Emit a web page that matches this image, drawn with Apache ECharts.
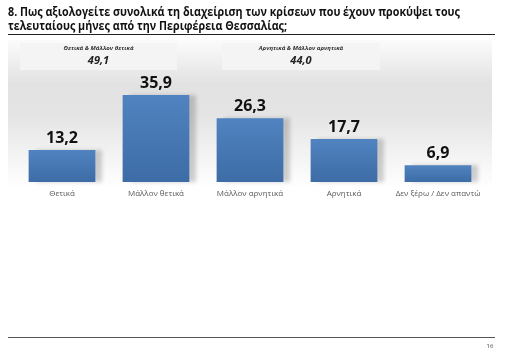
<!DOCTYPE html>
<html><head><meta charset="utf-8">
<script src="https://cdn.jsdelivr.net/npm/echarts@6/dist/echarts.min.js"></script>
<style>html,body{margin:0;padding:0;background:#fff}#c{width:516px;height:355px}</style>
</head><body><div id="c"></div>
<script>
const categories = ['Θετικά', 'Μάλλον θετικά', 'Μάλλον αρνητικά', 'Αρνητικά', 'Δεν ξέρω / Δεν απαντώ'];
const values = [13.2, 35.9, 26.3, 17.7, 6.9];
const groupLabels = ['Θετικά & Μάλλον θετικά', 'Αρνητικά & Μάλλον αρνητικά'];
const groupValues = [49.1, 44.0];
const titleLines = ['8. Πως αξιολογείτε συνολικά τη διαχείριση των κρίσεων που έχουν προκύψει τους', 'τελευταίους μήνες από την Περιφέρεια Θεσσαλίας;'];
const pageNumber = '16';

const fmt = v => v.toFixed(1).replace('.', ',');
const F = '"Open Sans", "Noto Sans", sans-serif';
const chart = echarts.init(document.getElementById('c'));

const boxes = [[20, 157], [222, 158]];
const graphic = [
  {type:'rect', z:-10, shape:{x:8,y:40,width:484,height:148},
   style:{fill:new echarts.graphic.LinearGradient(0,0,0,1,[
     {offset:0,color:'#fbfbfb'},{offset:0.3,color:'#e2e2e2'},{offset:0.5,color:'#e4e4e4'},{offset:0.85,color:'#f7f7f7'},{offset:1,color:'#ffffff'}])}},
  {type:'text', x:8, y:13, scaleX:0.895, style:{text:titleLines[0], font:'bold 12px '+F, fill:'#111', verticalAlign:'middle'}},
  {type:'text', x:8, y:26.5, scaleX:0.895, style:{text:titleLines[1], font:'bold 12px '+F, fill:'#111', verticalAlign:'middle'}},
  {type:'line', shape:{x1:8,y1:34.5,x2:495,y2:34.5}, style:{stroke:'#222', lineWidth:1}},
  {type:'line', shape:{x1:8,y1:337.5,x2:495,y2:337.5}, style:{stroke:'#555', lineWidth:1}},
  {type:'text', x:490, y:346, style:{text:pageNumber, font:'6px '+F, fill:'#444', align:'center', verticalAlign:'middle'}}
];
boxes.forEach((b, i) => {
  graphic.push({type:'rect', z:-5, shape:{x:b[0], y:43, width:b[1], height:27}, style:{fill:'#f4f4f4'}});
  graphic.push({type:'text', x:b[0]+b[1]/2, y:48, style:{text:groupLabels[i], font:'italic bold 6px '+F, fill:'#333', align:'center', verticalAlign:'middle'}});
  graphic.push({type:'text', x:b[0]+b[1]/2, y:61, style:{text:fmt(groupValues[i]), font:'italic bold 11px '+F, fill:'#222', align:'center', verticalAlign:'middle'}});
});

chart.setOption({
  animation:false,
  graphic: graphic,
  grid:{left:15, right:31, top:85, bottom:173},
  xAxis:{type:'category', data:categories, axisLine:{show:false}, axisTick:{show:false},
    axisLabel:{color:'#595959', fontSize:8, fontFamily:F, margin:8, interval:0}},
  yAxis:{type:'value', min:0, max:40, show:false, splitLine:{show:false}},
  series:[{type:'bar', data:values, barCategoryGap:'29%',
    itemStyle:{color:new echarts.graphic.LinearGradient(0,0,0,1,[{offset:0,color:'#5083c0'},{offset:1,color:'#3d6ca6'}]),
      shadowColor:'rgba(0,0,0,0.18)', shadowBlur:4, shadowOffsetX:7, shadowOffsetY:0},
    label:{show:true, position:'top', distance:4, formatter:p=>fmt(p.value), fontSize:16, fontWeight:'bold', color:'#111', fontFamily:F}}]
});
</script></body></html>
